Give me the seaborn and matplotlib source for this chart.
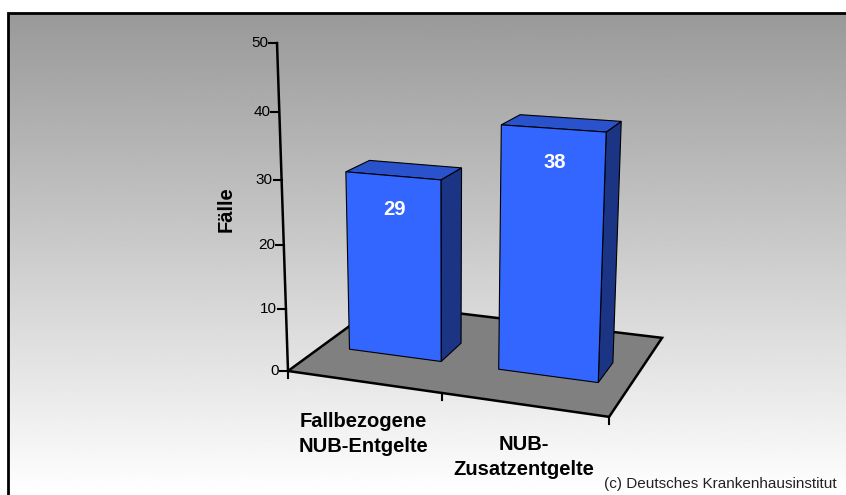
"""
Faelle mit NUB-Entgelten, nachgebaut als pseudo-3d Balken
"""

import numpy as np
import seaborn as sns
import matplotlib.pyplot as plt
from matplotlib.patches import Polygon
from matplotlib.transforms import Transform

categories = ["Fallbezogene\nNUB-Entgelte", "NUB-\nZusatzentgelte"]
faelle = [29, 38]
y_ticks = [0, 10, 20, 30, 40, 50]

FRONT = "#3366ff"
SIDE = "#1b3484"
TOP = "#2a52cc"
FLOOR = "#808080"

# camera of the fake 3d scene in pixels (origin top left)
# columns: category x, value y, floor depth z (0..1), origin
CAM = np.array([
    [135.15, -0.576, 150.4, 288.0],
    [5.546, -6.614, -20.46, 371.0],
    [-0.0417, -0.001287, 0.1538, 1.0],
])
Z_FRONT, Z_BACK = 0.345, 0.6
X0 = -0.5


def project(x, y, z):
    """3d scene point(s) -> pixel coords"""
    x, y, z = np.broadcast_arrays(np.atleast_1d(np.asarray(x, float)),
                                  np.atleast_1d(np.asarray(y, float)),
                                  np.atleast_1d(np.asarray(z, float)))
    pts = np.vstack([x - X0, y, z, np.ones_like(x)])
    p = CAM @ pts
    return np.column_stack([p[0] / p[2], p[1] / p[2]])


class Plane(Transform):
    """maps 2d coords of a plane in the scene to pixels"""
    input_dims = 2
    output_dims = 2

    def __init__(self, to3d):
        super().__init__()
        self.to3d = to3d

    def transform_non_affine(self, values):
        values = np.asarray(values, float)
        return project(*self.to3d(values[:, 0], values[:, 1]))


plt.rcParams['font.family'] = ['Liberation Sans', 'DejaVu Sans']

fig = plt.figure(figsize=(8.46, 4.95), dpi=100)
bg = fig.add_axes([0, 0, 1, 1])

# grey to white backdrop with frame
grad = np.linspace(153, 255, 256).reshape(-1, 1)
bg.imshow(grad, cmap="gray", vmin=0, vmax=255, extent=(8, 846, 495, 13),
          aspect="auto", interpolation="bilinear")
bg.plot([8, 8, 846], [495, 13, 13], color="black", lw=2,
        solid_joinstyle="miter")
bg.set_xlim(0, 846)
bg.set_ylim(495, 0)
bg.axis("off")

ax = fig.add_axes([0, 0, 1, 1])
sns.barplot(x=categories, y=faelle, color=FRONT, saturation=1, width=0.624,
            errorbar=None, ax=ax)
x_lo, x_hi = ax.get_xlim()
X0 = x_lo
ax.axis("off")
ax.patch.set_visible(False)

# floor
floor = Polygon([(x_lo, 0), (x_hi, 0), (x_hi, 1), (x_lo, 1)],
                closed=True, facecolor=FLOOR, edgecolor="black", lw=1.8,
                transform=Plane(lambda x, z: (x, 0, z)) + bg.transData)
bg.add_patch(floor)

# x ticks on the front edge of the floor
for xt in np.arange(x_lo, x_hi + 0.01, 1):
    p = project(xt, 0, 0)[0]
    bg.plot([p[0], p[0]], [p[1], p[1] + 7], color="black", lw=1.5)

# y axis
ends = project([x_lo, x_lo], [0, max(y_ticks)], 0)
bg.plot(ends[:, 0], ends[:, 1], color="black", lw=1.8)
for t in y_ticks:
    p = project(x_lo, t, 0)[0]
    bg.plot([p[0] - 8, p[0]], [p[1], p[1]], color="black", lw=1.5)
    bg.text(p[0] - 9, p[1], str(t), ha="right", va="center", fontsize=11)
bg.text(226, 209, "Fälle", rotation=90, ha="center", va="center",
        fontsize=14.5, fontweight="bold")

# bars: seaborn front faces pushed into the scene, plus side and top
front = Plane(lambda x, y: (x, y, Z_FRONT)) + bg.transData
for bar in ax.patches:
    xl = bar.get_x()
    xr = xl + bar.get_width()
    h = bar.get_height()
    bar.set_transform(front)
    bar.set_clip_on(False)
    bar.set_edgecolor("black")
    bar.set_linewidth(0.8)
    bar.set_zorder(3)

    side = Polygon([(Z_FRONT, 0), (Z_BACK, 0), (Z_BACK, h), (Z_FRONT, h)],
                   facecolor=SIDE, edgecolor="black", lw=0.8, zorder=2,
                   clip_on=False,
                   transform=Plane(lambda z, y, xr=xr: (xr, y, z))
                   + bg.transData)
    top = Polygon([(xl, Z_FRONT), (xr, Z_FRONT), (xr, Z_BACK), (xl, Z_BACK)],
                  facecolor=TOP, edgecolor="black", lw=0.8, zorder=2,
                  clip_on=False,
                  transform=Plane(lambda x, z, h=h: (x, h, z))
                  + bg.transData)
    ax.add_patch(side)
    ax.add_patch(top)

    p = project(xl + bar.get_width() / 2, h, Z_FRONT)[0]
    ax.text(p[0] + 2, p[1] + 34, str(int(h)), color="white", fontsize=14.5,
            fontweight="bold", ha="center", va="center",
            transform=bg.transData, zorder=4)

# category labels under the floor
for i, cat in enumerate(categories):
    p = project(i, 0, 0)[0]
    bg.text(p[0], p[1] + 30, cat, ha="center", va="top", fontsize=14.5,
            fontweight="bold", linespacing=1.4, multialignment="center")

bg.text(604, 488, "(c) Deutsches Krankenhausinstitut", fontsize=11,
        color="#222222", va="baseline", ha="left")

fig.savefig("out.png", dpi=100)
